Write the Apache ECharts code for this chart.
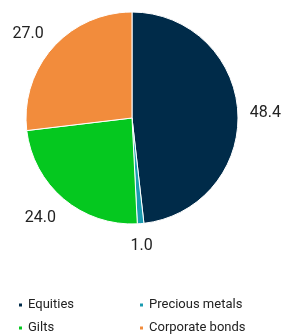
<!DOCTYPE html>
<html><head><meta charset="utf-8">
<script src="https://cdn.jsdelivr.net/npm/echarts@6/dist/echarts.min.js"></script>
<style>html,body{margin:0;padding:0;background:#fff}#c{width:283px;height:334px}</style>
</head><body><div id="c"></div>
<script>
var categories = ['Equities', 'Precious metals', 'Gilts', 'Corporate bonds'];
var values = [48.4, 1.0, 24.0, 27.0];
var colors = ['#002b49', '#1a9bb0', '#05c81f', '#f28c3c'];

var chart = echarts.init(document.getElementById('c'));
var data = categories.map(function (n, i) { return { name: n, value: values[i], itemStyle: { color: colors[i] } }; });
var legendText = { fontFamily: 'Roboto', fontSize: 13, lineHeight: 14, color: '#222' };
var LABEL_GAP = 12;
var PAD = 100;
chart.setOption({
  animation: false,
  legend: [
    { data: [categories[0], categories[2]], orient: 'vertical', left: 17, top: 298, height: 80, padding: 0,
      itemWidth: 5, itemHeight: 5, itemGap: 9, icon: 'rect', textStyle: legendText },
    { data: [categories[1], categories[3]], orient: 'vertical', left: 138, top: 298, height: 80, padding: 0,
      itemWidth: 5, itemHeight: 5, itemGap: 9, icon: 'rect', textStyle: legendText }
  ],
  series: [{
    type: 'pie',
    left: -PAD, top: 0, right: -PAD, bottom: 0,
    center: [132 + PAD, 118],
    radius: 106,
    startAngle: 90,
    clockwise: true,
    data: data,
    itemStyle: { borderColor: '#fff', borderWidth: 1 },
    label: { show: true, position: 'outside', formatter: function (p) { return p.value.toFixed(1); },
      fontFamily: 'Roboto', fontSize: 16, color: '#222' },
    labelLine: { show: true, length: 10, length2: 0, lineStyle: { opacity: 0, width: 0 } },
    labelLayout: function (params) {
      var p = params.labelLinePoints;
      if (!p) return {};
      var dx = p[1][0] - p[0][0], dy = p[1][1] - p[0][1];
      var len = Math.sqrt(dx * dx + dy * dy) || 1;
      var ux = dx / len, uy = dy / len;
      return {
        x: p[0][0] + ux * LABEL_GAP,
        y: p[0][1] + uy * LABEL_GAP + 2,
        align: ux > 0.3 ? 'left' : (ux < -0.3 ? 'right' : 'center'),
        verticalAlign: uy > 0.3 ? 'top' : (uy < -0.3 ? 'bottom' : 'middle')
      };
    }
  }]
});
</script></body></html>
